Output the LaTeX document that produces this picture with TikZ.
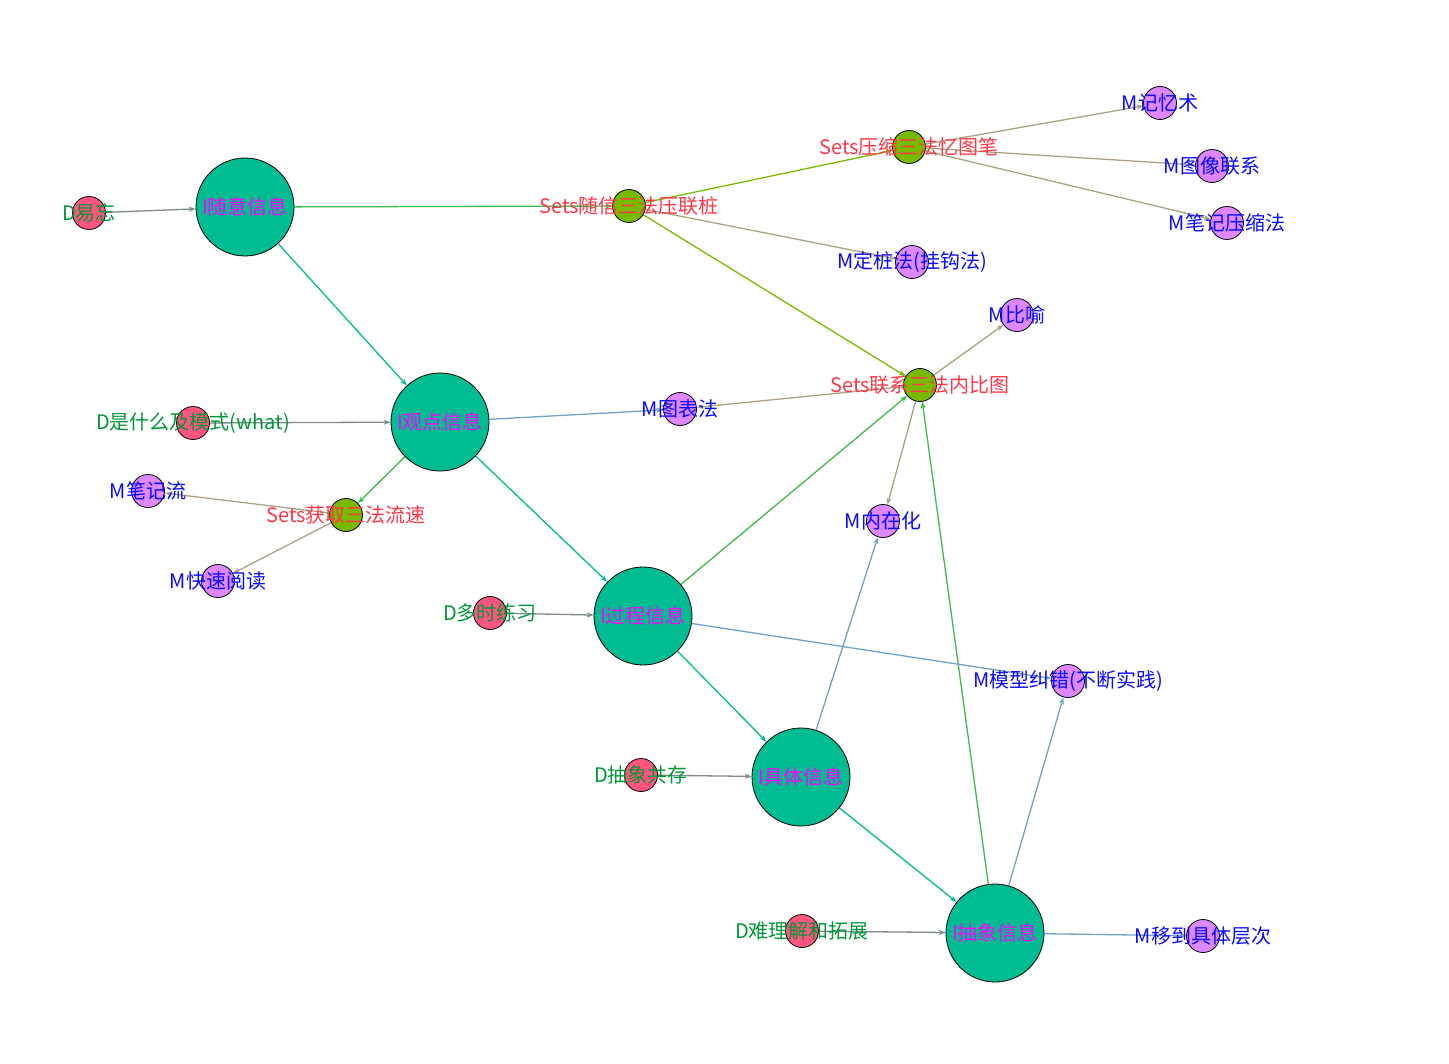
\documentclass[tikz,border=0pt]{standalone}
\usepackage{fontspec}
\setmainfont{Noto Sans CJK SC}
\usetikzlibrary{arrows.meta, backgrounds}
\definecolor{infofill}{RGB}{0, 188, 146}
\definecolor{detailfill}{RGB}{255, 85, 128}
\definecolor{methodfill}{RGB}{221, 136, 255}
\definecolor{setsfill}{RGB}{119, 187, 0}
\definecolor{infoink}{RGB}{255, 0, 255}
\definecolor{detailink}{RGB}{0, 150, 55}
\definecolor{methodink}{RGB}{10, 10, 255}
\definecolor{setsink}{RGB}{255, 55, 70}
\definecolor{edgegray}{RGB}{128, 137, 140}
\definecolor{edgeteal}{RGB}{0, 188, 146}
\definecolor{edgegreen}{RGB}{60, 188, 72}
\definecolor{edgelime}{RGB}{119, 187, 0}
\definecolor{edgekhaki}{RGB}{170, 162, 128}
\definecolor{edgeblue}{RGB}{110, 162, 200}

\begin{document}
\begin{tikzpicture}[
	x=0.5pt, y=-0.5pt,
	>={Stealth[length=3.5pt, width=2.6pt]},
	font=\fontsize{10}{12}\selectfont,
	% Styles
	infonode/.style={circle, draw=black, line width=0.4pt, fill=infofill, minimum size=49pt, inner sep=0pt},
	detailnode/.style={circle, draw=black, line width=0.4pt, fill=detailfill, minimum size=16.5pt, inner sep=0pt},
	methodnode/.style={circle, draw=black, line width=0.4pt, fill=methodfill, minimum size=16.5pt, inner sep=0pt},
	setsnode/.style={circle, draw=black, line width=0.4pt, fill=setsfill, minimum size=16.5pt, inner sep=0pt},
	infotext/.style={text=infoink, inner sep=0pt},
	detailtext/.style={text=detailink, inner sep=0pt},
	methodtext/.style={text=methodink, inner sep=0pt},
	setstext/.style={text=setsink, inner sep=0pt},
	link/.style={->, line width=0.65pt}
	]
	
	\useasboundingbox (0, 0) rectangle (1449, 1064);
	
	% ==========================================
	% Information nodes (I)
	% ==========================================
	\node[infonode, label={[infotext]center:I随意信息}] (iRandom) at (245, 207) {};
	\node[infonode, label={[infotext]center:I观点信息}] (iView) at (440, 422) {};
	\node[infonode, label={[infotext]center:I过程信息}] (iProcess) at (643, 616) {};
	\node[infonode, label={[infotext]center:I具体信息}] (iConcrete) at (801, 777) {};
	\node[infonode, label={[infotext]center:I抽象信息}] (iAbstract) at (995, 933) {};
	
	% ==========================================
	% Difficulty nodes (D)
	% ==========================================
	\node[detailnode, label={[detailtext]center:D易忘}] (dForget) at (89, 213) {};
	\node[detailnode, label={[detailtext]center:D是什么及模式(what)}] (dWhat) at (193, 423) {};
	\node[detailnode, label={[detailtext]center:D多时练习}] (dPractice) at (490, 613) {};
	\node[detailnode, label={[detailtext]center:D抽象共存}] (dCoexist) at (641, 775) {};
	\node[detailnode, label={[detailtext]center:D难理解和拓展}] (dHard) at (802, 931) {};
	
	% ==========================================
	% Sets nodes
	% ==========================================
	\node[setsnode, label={[setstext]center:Sets随信三法压联桩}] (setFix) at (629, 206) {};
	\node[setsnode, label={[setstext]center:Sets压缩三法忆图笔}] (setCompress) at (909, 147) {};
	\node[setsnode, label={[setstext]center:Sets联系三法内比图}] (setLink) at (920, 385) {};
	\node[setsnode, label={[setstext]center:Sets获取三法流速}] (setGet) at (346, 515) {};
	
	% ==========================================
	% Method nodes (M)
	% ==========================================
	\node[methodnode, label={[methodtext]center:M记忆术}] (mMnemonic) at (1160, 103) {};
	\node[methodnode, label={[methodtext]center:M图像联系}] (mImage) at (1212, 166) {};
	\node[methodnode, label={[methodtext]center:M笔记压缩法}] (mNoteComp) at (1227, 223) {};
	\node[methodnode, label={[methodtext]center:M定桩法(挂钩法)}] (mPeg) at (912, 262) {};
	\node[methodnode, label={[methodtext]center:M比喻}] (mMetaphor) at (1017, 315) {};
	\node[methodnode, label={[methodtext]center:M图表法}] (mChart) at (680, 409) {};
	\node[methodnode, label={[methodtext]center:M笔记流}] (mNoteFlow) at (148, 491) {};
	\node[methodnode, label={[methodtext]center:M快速阅读}] (mSpeed) at (218, 581) {};
	\node[methodnode, label={[methodtext]center:M内在化}] (mInternal) at (883, 521) {};
	\node[methodnode, label={[methodtext]center:M模型纠错(不断实践)}] (mModel) at (1068, 681) {};
	\node[methodnode, label={[methodtext]center:M移到具体层次}] (mMove) at (1203, 936) {};
	
	% ==========================================
	% Edges (behind the nodes)
	% ==========================================
	\begin{scope}[on background layer]
		% D -> I
		\draw[link, edgegray] (dForget) -- (iRandom);
		\draw[link, edgegray] (dWhat) -- (iView);
		\draw[link, edgegray] (dPractice) -- (iProcess);
		\draw[link, edgegray] (dCoexist) -- (iConcrete);
		\draw[link, edgegray] (dHard) -- (iAbstract);
		
		% I -> I
		\draw[link, edgeteal] (iRandom) -- (iView);
		\draw[link, edgeteal] (iView) -- (iProcess);
		\draw[link, edgeteal] (iProcess) -- (iConcrete);
		\draw[link, edgeteal] (iConcrete) -- (iAbstract);
		
		% I -> Sets
		\draw[link, edgegreen] (iRandom) -- (setFix);
		\draw[link, edgegreen] (iView) -- (setGet);
		\draw[link, edgegreen] (iProcess) -- (setLink);
		\draw[link, edgegreen] (iAbstract) -- (setLink);
		
		% Sets -> Sets
		\draw[link, edgelime] (setFix) -- (setCompress);
		\draw[link, edgelime] (setFix) -- (setLink);
		
		% Sets -> M
		\draw[link, edgekhaki] (setFix) -- (mPeg);
		\draw[link, edgekhaki] (setCompress) -- (mMnemonic);
		\draw[link, edgekhaki] (setCompress) -- (mImage);
		\draw[link, edgekhaki] (setCompress) -- (mNoteComp);
		\draw[link, edgekhaki] (setLink) -- (mMetaphor);
		\draw[link, edgekhaki] (setLink) -- (mInternal);
		\draw[link, edgekhaki] (setLink) -- (mChart);
		\draw[link, edgekhaki] (setGet) -- (mNoteFlow);
		\draw[link, edgekhaki] (setGet) -- (mSpeed);
		
		% I -> M
		\draw[link, edgeblue] (iView) -- (mChart);
		\draw[link, edgeblue] (iProcess) -- (mModel);
		\draw[link, edgeblue] (iConcrete) -- (mInternal);
		\draw[link, edgeblue] (iAbstract) -- (mModel);
		\draw[link, edgeblue] (iAbstract) -- (mMove);
	\end{scope}
	
\end{tikzpicture}
\end{document}
